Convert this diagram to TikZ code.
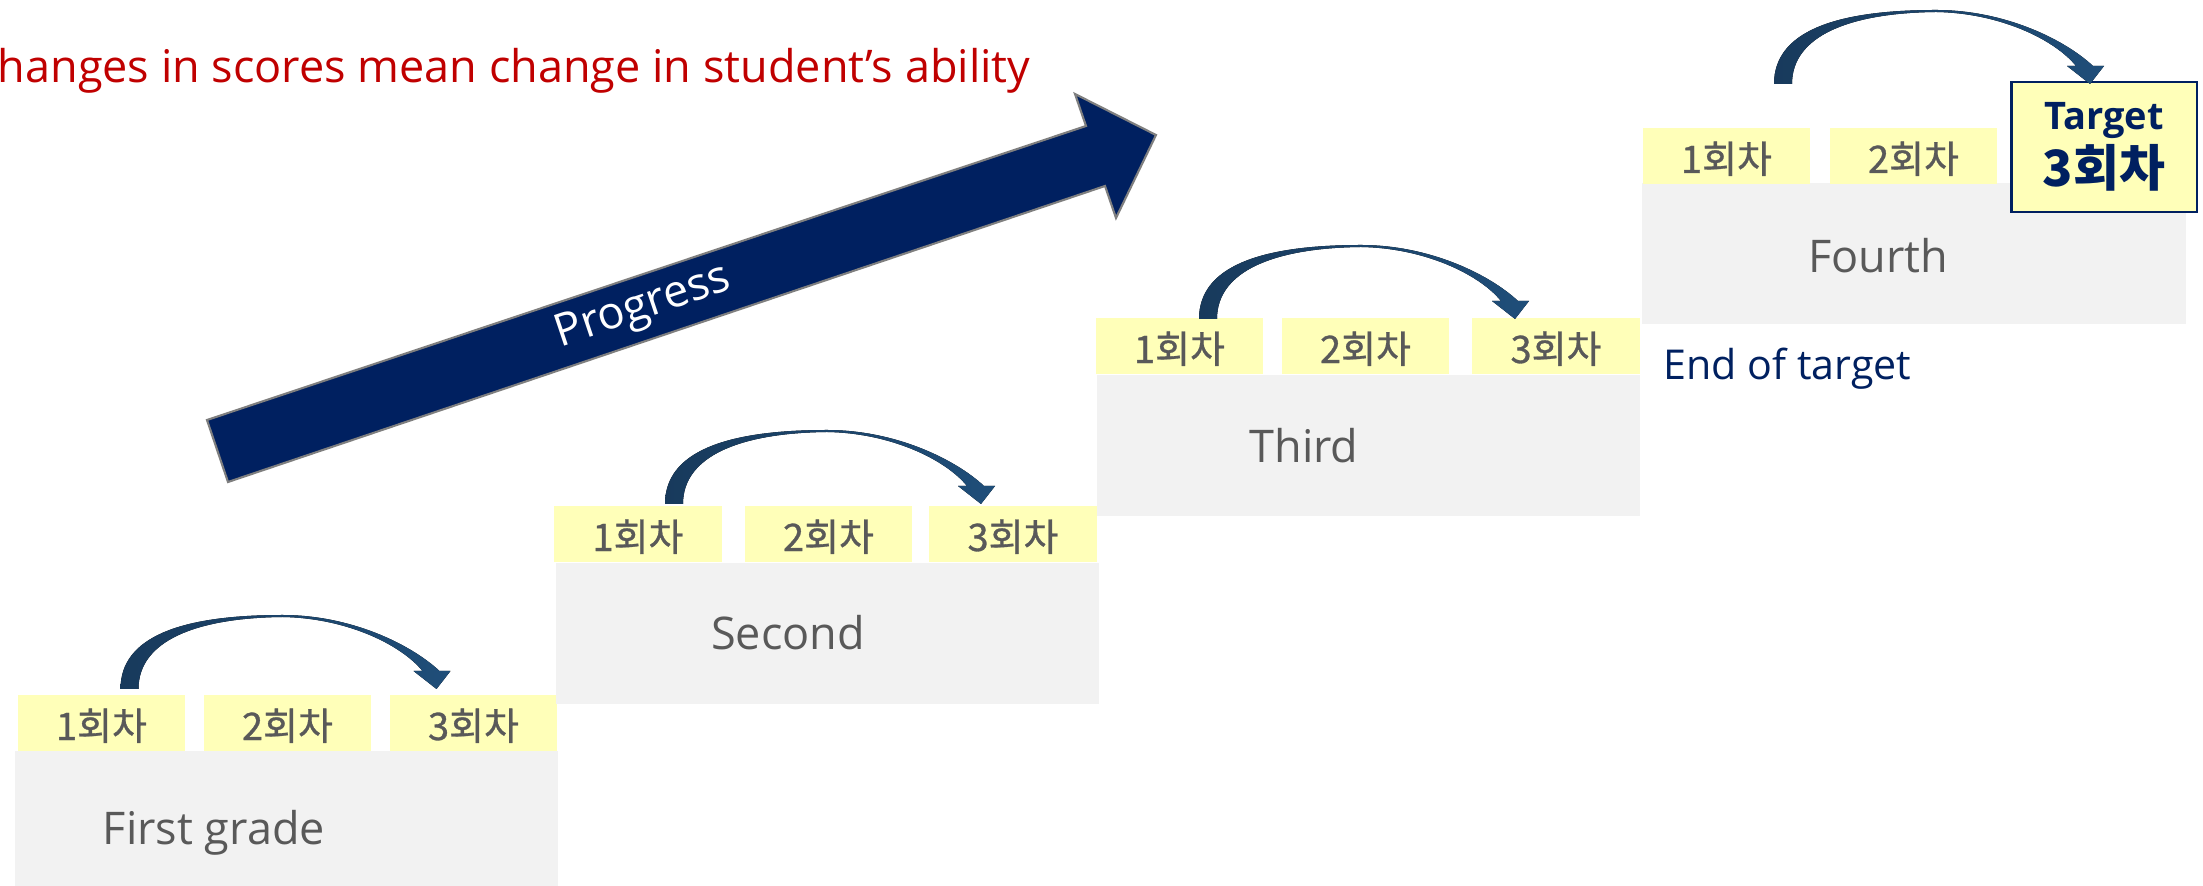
\documentclass[tikz,border=0pt]{standalone}
\usepackage{fontspec}
\setmainfont{Open Sans}
\newfontfamily\kor{Noto Sans CJK KR}
\newfontfamily\kormid[FakeBold=0.8]{Noto Sans CJK KR}
\definecolor{titlered}{HTML}{C00000}
\definecolor{navy}{HTML}{002060}
\definecolor{boxgray}{HTML}{F2F2F2}
\definecolor{tabyellow}{HTML}{FFFFB9}
\definecolor{labelgray}{HTML}{595959}
\definecolor{hopL}{HTML}{183A5C}
\definecolor{hopR}{HTML}{1F4E79}
\definecolor{rimgray}{HTML}{7F7F7F}
\begin{document}
\begin{tikzpicture}[x=0.01cm, y=-0.01cm,
    stage/.style={anchor=north west, fill=boxgray, minimum width=54.3mm, minimum height=14.1mm, inner sep=0pt},
    tab/.style={fill=tabyellow, minimum width=16.7mm, minimum height=5.6mm, inner sep=0pt, text height=3.4mm, text depth=0mm, text=labelgray, font=\kormid\fontsize{10.8}{13}\selectfont},
    grade/.style={anchor=base, inner sep=0pt, text=labelgray, font=\fontsize{12.8}{15}\selectfont},
    hop/.pic={
      \fill[left color=hopL, right color=hopR] (0,0) .. controls (0,-52) and (60,-74) .. (162,-74)
        .. controls (230,-74) and (290,-45) .. (319,-18) -- (330,-18) -- (316,0) -- (293,-18) -- (302,-18)
        .. controls (280,-45) and (225,-71) .. (162,-72) .. controls (75,-71) and (18,-48) .. (18,0) -- cycle;
    }]
  \useasboundingbox (0,0) rectangle (2203,886);

  % title, cut at the left edge
  \node (title)[anchor=base west, inner sep=0pt, text=titlered, font=\fontsize{12.8}{15}\selectfont] at (-3, 83) {hanges in scores mean change in student’s ability};

  % progress arrow
  \coordinate (tm) at (217.5, 451);
  \coordinate (hm) at (1095.5, 156);
  \filldraw[fill=navy, draw=rimgray, line width=0.6pt, line join=miter] (207,420) -- (1086,126) -- (1075,94) -- (1156,135) -- (1116,218) -- (1105,186) -- (228,482) -- cycle;
  \path (tm) -- (hm) node[pos=0.485, sloped, inner sep=0pt, text=white, font=\fontsize{12.8}{15}\selectfont] (prog) {Progress};

  % first grade
  \node (g1)[stage] at (14, 750) {};
  \node (g1a)[tab] at (101.5, 723) {1회차};
  \node (g1b)[tab] at (287.5, 723) {2회차};
  \node (g1c)[tab] at (473.5, 723) {3회차};
  \node (n1)[grade] at (214, 845) {First grade};
  \pic at (120.5, 689) {hop};

  % second
  \node (g2)[stage] at (555, 562) {};
  \node (g2a)[tab] at (638, 534) {1회차};
  \node (g2b)[tab] at (828.5, 534) {2회차};
  \node (g2c)[tab] at (1013, 534) {3회차};
  \node (n2)[grade] at (788, 650) {Second};
  \pic at (665, 504) {hop};

  % third
  \node (g3)[stage] at (1096, 374) {};
  \node (g3a)[tab] at (1179.5, 346) {1회차};
  \node (g3b)[tab] at (1365.5, 346) {2회차};
  \node (g3c)[tab] at (1556, 346) {3회차};
  \node (n3)[grade] at (1304, 463) {Third};
  \pic at (1199, 319) {hop};
  \node (end)[anchor=base west, inner sep=0pt, text=navy, font=\fontsize{11.7}{14}\selectfont] at (1663, 380) {End of target};

  % fourth
  \node (g4)[stage] at (1641.5, 182) {};
  \node (g4a)[tab] at (1726.5, 156) {1회차};
  \node (g4b)[tab] at (1913.5, 156) {2회차};
  \node (n4)[grade] at (1878, 273) {Fourth};
  \node (target)[draw=navy, line width=0.6pt, fill=tabyellow, minimum width=18.5mm, minimum height=13mm, inner sep=0pt, align=center, text=navy, font=\bfseries\fontsize{14.2}{16.2}\selectfont] at (2104, 147) {{\fontsize{10.8}{16.2}\selectfont Target}\\{\kor\bfseries 3회차}};
  \pic at (1774, 84) {hop};
\end{tikzpicture}
\end{document}
